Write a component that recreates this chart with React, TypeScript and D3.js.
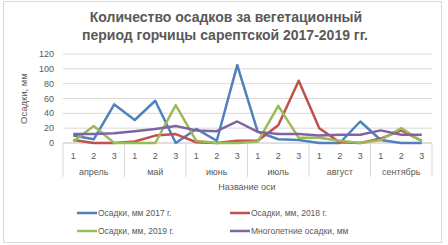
import React from "react";
import * as d3 from "d3";

const months = ["апрель", "май", "июнь", "июль", "август", "сентябрь"];
const decades = ["1", "2", "3"];
const seriesNames = [
  "Осадки, мм 2017 г.",
  "Осадки, мм, 2018 г.",
  "Осадки, мм, 2019 г.",
  "Многолетние осадки, мм",
];
const s2017 = [10, 5, 52, 31, 57, 0, 19, 3, 105, 15, 5, 4, 0, 0, 29, 4, 0, 0];
const s2018 = [4, 0, 0, 2, 10, 12, 1, 0, 3, 3, 24, 84, 20, 1, 0, 6, 17, 3];
const s2019 = [2, 23, 0, 0, 0, 51, 3, 0, 0, 2, 50, 7, 7, 3, 0, 4, 20, 2];
const sMulti = [12, 12, 13, 16, 19, 23, 17, 16, 29, 15, 12, 12, 10, 11, 11, 17, 11, 11];
const yTicks = [0, 20, 40, 60, 80, 100, 120];
const colors = ["#4F81BD", "#C0504D", "#9BBB59", "#8064A2"];

const W = 448;
const H = 245;
const font = "'Liberation Sans', Arial, sans-serif";

export default function App() {
  const allSeries = [s2017, s2018, s2019, sMulti];
  const cats = months.flatMap((m) => decades.map((d) => m + d));
  const x = d3.scaleBand().domain(cats).range([63, 432]);
  const y = d3.scaleLinear().domain([0, 120]).range([143, 54]);
  const line = d3
    .line<number>()
    .x((_, i) => (x(cats[i]) as number) + x.bandwidth() / 2)
    .y((v) => y(v));
  const groupW = x.bandwidth() * 3;
  const axisBottom = 177;

  return (
    <svg width={W} height={H} style={{ position: "absolute", left: 0, top: 0 }}>
      <rect x={0} y={0} width={W} height={H} fill="#fff" />
      <rect x={3.5} y={1.5} width={438} height={241} fill="none" stroke="#D9D9D9" />
      <text x={226} y={22} textAnchor="middle" fontFamily={font} fontWeight="bold" fontSize={14} fill="#595959">
        Количество осадков за вегетационный
      </text>
      <text x={225} y={40} textAnchor="middle" fontFamily={font} fontWeight="bold" fontSize={14} fill="#595959">
        период горчицы сарептской 2017-2019 гг.
      </text>
      {yTicks.map((t) => (
        <g key={t}>
          {t > 0 && <line x1={63} x2={432} y1={y(t)} y2={y(t)} stroke="#D9D9D9" strokeWidth={1} />}
          <text x={54} y={y(t) + 3} textAnchor="end" fontFamily={font} fontSize={9} fill="#595959">
            {t}
          </text>
        </g>
      ))}
      <text
        transform={`translate(27,${y(60)}) rotate(-90)`}
        textAnchor="middle"
        fontFamily={font}
        fontSize={9.5}
        fill="#595959"
      >
        Осадки, мм
      </text>
      <line x1={63} x2={432} y1={y(0)} y2={y(0)} stroke="#BFBFBF" />
      {d3.range(months.length + 1).map((i) => {
        const xx = 63 + i * groupW;
        return <line key={i} x1={xx} x2={xx} y1={y(0)} y2={axisBottom} stroke="#D9D9D9" />;
      })}
      {cats.map((c, i) => (
        <text
          key={c}
          x={(x(c) as number) + x.bandwidth() / 2}
          y={159}
          textAnchor="middle"
          fontFamily={font}
          fontSize={9}
          fill="#595959"
        >
          {decades[i % 3]}
        </text>
      ))}
      {months.map((m, i) => (
        <text
          key={m}
          x={63 + (i + 0.5) * groupW}
          y={175}
          textAnchor="middle"
          fontFamily={font}
          fontSize={9}
          fill="#595959"
        >
          {m}
        </text>
      ))}
      <text x={247} y={190} textAnchor="middle" fontFamily={font} fontSize={9} fill="#595959">
        Название оси
      </text>
      {allSeries.map((s, k) => (
        <path key={k} d={line(s) as string} fill="none" stroke={colors[k]} strokeWidth={2.5} strokeLinejoin="round" />
      ))}
      {seriesNames.map((n, k) => {
        const lx = k % 2 === 0 ? 77 : 230;
        const ly = k < 2 ? 213 : 231;
        return (
          <g key={n}>
            <line x1={lx} x2={lx + 20} y1={ly} y2={ly} stroke={colors[k]} strokeWidth={2.5} />
            <text x={lx + 21} y={ly + 3} fontFamily={font} fontSize={8.5} fill="#595959">
              {n}
            </text>
          </g>
        );
      })}
    </svg>
  );
}
